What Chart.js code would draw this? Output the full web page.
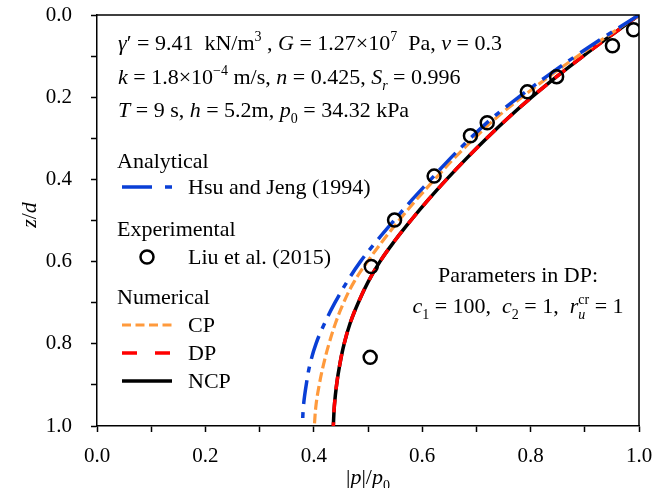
<!DOCTYPE html>
<html>
<head>
<meta charset="utf-8">
<script src="https://cdn.jsdelivr.net/npm/chart.js@4.4.0/dist/chart.umd.min.js"></script>
<style>
  html, body { margin: 0; padding: 0; background: #fff; }
  #wrap { width: 672px; height: 488px; }
</style>
</head>
<body>
<div id="wrap"><canvas id="chart" width="672" height="488"></canvas></div>
<script>
const depth = [0, 0.05, 0.1, 0.15, 0.2, 0.25, 0.3, 0.35, 0.4, 0.45, 0.5,
               0.55, 0.6, 0.65, 0.7, 0.75, 0.8, 0.85, 0.9, 0.95, 1.0];

// |p|/p0 for each curve
const hsuJeng = [1.0, 0.940, 0.883, 0.829, 0.778, 0.730, 0.689, 0.651, 0.616, 0.581, 0.548,
                 0.516, 0.486, 0.461, 0.439, 0.420, 0.404, 0.393, 0.386, 0.381, 0.379];
const cpVals  = [1.0, 0.943, 0.887, 0.834, 0.784, 0.737, 0.696, 0.658, 0.623, 0.589, 0.557,
                 0.527, 0.499, 0.474, 0.455, 0.440, 0.428, 0.418, 0.410, 0.404, 0.401];
const dpVals  = [1.0, 0.948, 0.897, 0.848, 0.802, 0.759, 0.719, 0.681, 0.645, 0.611, 0.579,
                 0.549, 0.522, 0.500, 0.482, 0.467, 0.456, 0.448, 0.442, 0.438, 0.436];
const ncpVals = [1.0, 0.948, 0.897, 0.848, 0.802, 0.759, 0.719, 0.681, 0.645, 0.611, 0.579,
                 0.549, 0.522, 0.500, 0.482, 0.467, 0.456, 0.448, 0.442, 0.438, 0.436];

// experimental points (Liu et al. 2015)
const expP = [0.990, 0.951, 0.848, 0.794, 0.720, 0.689, 0.622, 0.549, 0.506, 0.504];
const expZ = [0.036, 0.075, 0.150, 0.187, 0.262, 0.294, 0.392, 0.499, 0.612, 0.833];

const tickStep = 0.1;
const FONT = '"Liberation Serif", "Times New Roman", serif';

const BLUE = '#0a3fd6', ORANGE = '#ff9a3c', RED = '#ff0000', BLACK = '#000000';
const blueDash = [24, 8, 6, 8], orangeDash = [10, 4], redDash = [13, 10];

const pts = (xs, ys) => xs.map((v, i) => ({ x: v, y: ys[i] }));

// draws a line of mixed text: flags i=italic, b=subscript, p=superscript, o=overlay on previous run
function richText(ctx, x, y, runs, size, align) {
    const fontOf = f => (f.includes('i') ? 'italic ' : '') +
        ((f.includes('b') || f.includes('p')) ? Math.round(size * 0.62) : size) + 'px ' + FONT;
    let total = 0, prevW = 0;
    const widths = runs.map(r => {
        ctx.font = fontOf(r[1]);
        const w = ctx.measureText(r[0]).width;
        if (r[1].includes('o')) { total += Math.max(0, w - prevW); }
        else { total += w; prevW = w; }
        return w;
    });
    let cx = align === 'center' ? x - total / 2 : (align === 'right' ? x - total : x);
    let prevX = cx;
    prevW = 0;
    ctx.textBaseline = 'alphabetic';
    ctx.textAlign = 'left';
    runs.forEach((r, i) => {
        const f = r[1];
        ctx.font = fontOf(f);
        let dy = 0;
        if (f.includes('b')) dy = size * 0.28;
        if (f.includes('p')) dy = -size * 0.4;
        if (f.includes('o')) {
            ctx.fillText(r[0], prevX, y + dy);
            cx = prevX + Math.max(prevW, widths[i]);
        } else {
            ctx.fillText(r[0], cx, y + dy);
            prevX = cx; prevW = widths[i];
            cx += widths[i];
        }
    });
}

function sample(ctx, x1, x2, y, color, width, dash) {
    ctx.save();
    ctx.strokeStyle = color;
    ctx.lineWidth = width;
    ctx.lineCap = 'butt';
    ctx.setLineDash(dash);
    ctx.beginPath();
    ctx.moveTo(x1, y);
    ctx.lineTo(x2, y);
    ctx.stroke();
    ctx.restore();
}

const decorPlugin = {
    id: 'decor',
    beforeDraw(chart) {
        const ctx = chart.ctx;
        ctx.save();
        ctx.fillStyle = '#fff';
        ctx.fillRect(0, 0, chart.width, chart.height);
        ctx.restore();
    },
    afterDraw(chart) {
        const ctx = chart.ctx;
        const a = chart.chartArea;
        ctx.save();
        ctx.strokeStyle = '#000';
        ctx.lineWidth = 1.5;
        ctx.beginPath();
        ctx.moveTo(a.left, a.top);
        ctx.lineTo(a.right, a.top);
        ctx.lineTo(a.right, a.bottom);
        ctx.stroke();

        ctx.fillStyle = '#000';
        const S = 22;
        // parameter block
        richText(ctx, 118, 50, [['γ', 'i'], ['′ = 9.41  kN/m', ''], ['3', 'p'], [' , ', ''], ['G', 'i'],
            [' = 1.27×10', ''], ['7', 'p'], ['  Pa, ', ''], ['ν', 'i'], [' = 0.3', '']], S, 'left');
        richText(ctx, 118, 84, [['k', 'i'], [' = 1.8×10', ''], ['−4', 'p'], [' m/s, ', ''], ['n', 'i'],
            [' = 0.425, ', ''], ['S', 'i'], ['r', 'ib'], [' = 0.996', '']], S, 'left');
        richText(ctx, 118, 117, [['T', 'i'], [' = 9 s, ', ''], ['h', 'i'], [' = 5.2m, ', ''], ['p', 'i'],
            ['0', 'b'], [' = 34.32 kPa', '']], S, 'left');

        richText(ctx, 518, 282, [['Parameters in DP:', '']], S, 'center');
        richText(ctx, 518, 313, [['c', 'i'], ['1', 'b'], [' = 100,  ', ''], ['c', 'i'], ['2', 'b'],
            [' = 1,  ', ''], ['r', 'i'], ['u', 'ib'], ['cr', 'po'], [' = 1', '']], S, 'center');

        // legend
        richText(ctx, 117, 168, [['Analytical', '']], S, 'left');
        sample(ctx, 122, 172, 187, BLUE, 3.5, [30, 13, 7, 13]);
        richText(ctx, 188, 194, [['Hsu and Jeng (1994)', '']], S, 'left');
        richText(ctx, 117, 236, [['Experimental', '']], S, 'left');
        ctx.strokeStyle = '#000';
        ctx.lineWidth = 2.5;
        ctx.beginPath();
        ctx.arc(147, 257, 6.5, 0, Math.PI * 2);
        ctx.stroke();
        richText(ctx, 188, 264, [['Liu et al. (2015)', '']], S, 'left');
        richText(ctx, 117, 304, [['Numerical', '']], S, 'left');
        sample(ctx, 122, 172, 325, ORANGE, 3.2, [9, 4.5]);
        richText(ctx, 188, 332, [['CP', '']], S, 'left');
        sample(ctx, 122, 172, 353, RED, 3.5, [15, 18]);
        richText(ctx, 188, 360, [['DP', '']], S, 'left');
        sample(ctx, 122, 172, 381, BLACK, 3.5, []);
        richText(ctx, 188, 388, [['NCP', '']], S, 'left');

        // axis titles
        richText(ctx, 368, 484, [['|', ''], ['p', 'i'], ['|/', ''], ['p', 'i'], ['0', 'b']], S, 'center');
        ctx.translate(36, 215);
        ctx.rotate(-Math.PI / 2);
        richText(ctx, 0, 0, [['z', 'i'], ['/', ''], ['d', 'i']], S, 'center');
        ctx.restore();
    }
};

const tickLabel = v => (Math.round(v * 10) % 2 === 0 ? v.toFixed(1) : '');

const axisCommon = {
    type: 'linear', min: 0, max: 1,
    grid: { display: true, drawOnChartArea: false, drawTicks: true, tickLength: 6, tickWidth: 1.5, color: '#000' },
    border: { display: true, color: '#000', width: 1.5 },
};

new Chart(document.getElementById('chart'), {
    type: 'scatter',
    data: {
        datasets: [
            {
                label: 'Liu et al. (2015)', data: pts(expP, expZ), order: 0,
                pointRadius: 6.5, pointBorderWidth: 2.5, borderColor: '#000',
                backgroundColor: 'rgba(0,0,0,0)', showLine: false
            },
            {
                label: 'Hsu and Jeng (1994)', data: pts(hsuJeng, depth), order: 1, showLine: true,
                borderColor: BLUE, borderWidth: 3.5, borderDash: blueDash, pointRadius: 0, tension: 0.4
            },
            {
                label: 'CP', data: pts(cpVals, depth), order: 2, showLine: true,
                borderColor: ORANGE, borderWidth: 3.2, borderDash: orangeDash, pointRadius: 0, tension: 0.4
            },
            {
                label: 'DP', data: pts(dpVals, depth), order: 3, showLine: true,
                borderColor: RED, borderWidth: 3.5, borderDash: redDash, pointRadius: 0, tension: 0.4
            },
            {
                label: 'NCP', data: pts(ncpVals, depth), order: 4, showLine: true,
                borderColor: BLACK, borderWidth: 3.5, pointRadius: 0, tension: 0.4
            }
        ]
    },
    options: {
        responsive: false, animation: false, devicePixelRatio: 1,
        layout: { padding: { left: 0, top: 15, right: 33, bottom: 0 } },
        plugins: { legend: { display: false }, tooltip: { enabled: false } },
        scales: {
            x: Object.assign({}, axisCommon, {
                position: 'bottom',
                afterFit: s => { s.height = 62; s.paddingLeft = 0; s.paddingRight = 0; },
                ticks: { stepSize: tickStep, autoSkip: false, maxRotation: 0, padding: 12,
                    color: '#000', font: { family: FONT, size: 21 }, callback: tickLabel }
            }),
            y: Object.assign({}, axisCommon, {
                position: 'left', reverse: true,
                afterFit: s => { s.width = 97; s.paddingTop = 0; s.paddingBottom = 0; },
                ticks: { stepSize: tickStep, autoSkip: false, padding: 19,
                    color: '#000', font: { family: FONT, size: 21 }, callback: tickLabel }
            })
        }
    },
    plugins: [decorPlugin]
});
</script>
</body>
</html>
